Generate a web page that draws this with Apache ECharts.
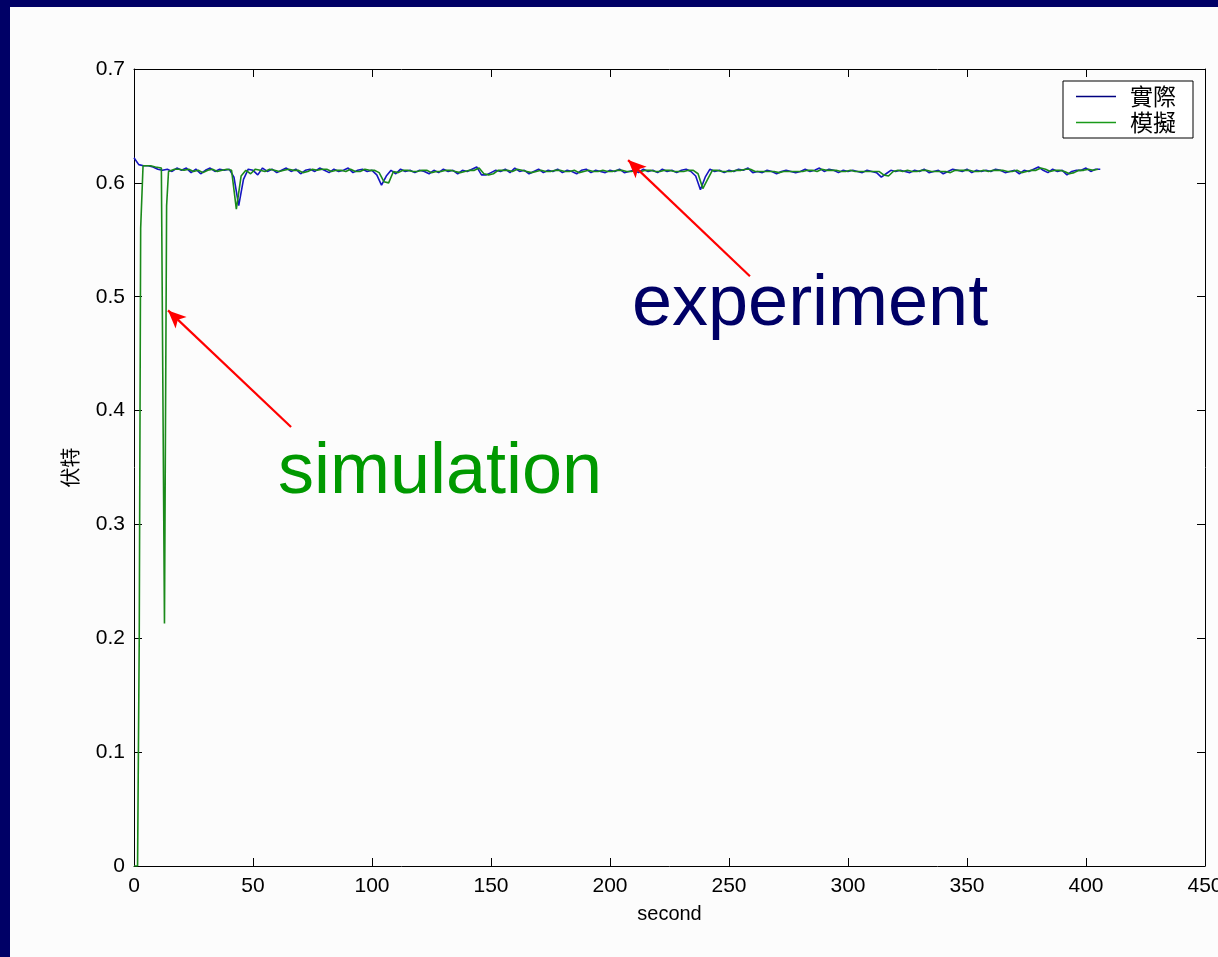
<!DOCTYPE html>
<html>
<head>
<meta charset="utf-8">
<script src="https://cdn.jsdelivr.net/npm/echarts@6/dist/echarts.min.js"></script>
<style>
html,body{margin:0;padding:0;width:1218px;height:957px;background:#000066;overflow:hidden;}
#chart{position:absolute;left:10px;top:7px;width:1208px;height:950px;background:#fcfcfc;}
</style>
</head>
<body>
<div id="chart"></div>
<script>
// x-axis tick labels (seconds) and y-axis ticks (volts)
const xTicks = [0, 50, 100, 150, 200, 250, 300, 350, 400, 450];
const yTicks = [0, 0.1, 0.2, 0.3, 0.4, 0.5, 0.6, 0.7];
const seriesNames = ['實際', '模擬'];

// 實際 (experiment): sampled every 2 s starting at 0 s
const blueStart = 0, blueStep = 2;
const blueValues = [
  0.622, 0.616, 0.615, 0.615, 0.614, 0.612, 0.611, 0.612, 0.610, 0.613,
  0.611, 0.613, 0.609, 0.612, 0.608, 0.611, 0.613, 0.610, 0.612, 0.611,
  0.612, 0.605, 0.580, 0.603, 0.612, 0.611, 0.607, 0.613, 0.610, 0.612,
  0.609, 0.611, 0.613, 0.610, 0.612, 0.608, 0.611, 0.612, 0.610, 0.613,
  0.611, 0.609, 0.612, 0.610, 0.611, 0.613, 0.609, 0.611, 0.612, 0.610,
  0.611, 0.607, 0.598, 0.606, 0.611, 0.608, 0.612, 0.610, 0.611, 0.609,
  0.611, 0.610, 0.608, 0.611, 0.609, 0.612, 0.610, 0.611, 0.608, 0.611,
  0.610, 0.612, 0.614, 0.607, 0.607, 0.609, 0.611, 0.610, 0.612, 0.609,
  0.613, 0.610, 0.611, 0.608, 0.610, 0.612, 0.609, 0.611, 0.610, 0.612,
  0.609, 0.611, 0.610, 0.608, 0.611, 0.612, 0.609, 0.611, 0.610, 0.609,
  0.611, 0.610, 0.612, 0.609, 0.610, 0.611, 0.609, 0.612, 0.610, 0.611,
  0.609, 0.612, 0.610, 0.611, 0.609, 0.611, 0.612, 0.610, 0.606, 0.594,
  0.605, 0.612, 0.610, 0.611, 0.609, 0.611, 0.610, 0.612, 0.611, 0.613,
  0.609, 0.610, 0.609, 0.611, 0.610, 0.608, 0.610, 0.611, 0.610, 0.609,
  0.610, 0.612, 0.610, 0.611, 0.613, 0.610, 0.612, 0.611, 0.609, 0.611,
  0.610, 0.611, 0.610, 0.609, 0.611, 0.610, 0.609, 0.605, 0.608, 0.611,
  0.610, 0.611, 0.610, 0.609, 0.611, 0.610, 0.612, 0.609, 0.610, 0.611,
  0.608, 0.610, 0.612, 0.611, 0.610, 0.612, 0.609, 0.611, 0.610, 0.611,
  0.610, 0.612, 0.611, 0.609, 0.610, 0.611, 0.608, 0.611, 0.610, 0.612,
  0.614, 0.611, 0.609, 0.612, 0.610, 0.611, 0.607, 0.610, 0.611, 0.611,
  0.613, 0.610, 0.612, 0.612
];

// 模擬 (simulation): start-up transient and first spike as [second, volt] pairs
const greenStartPoints = [
  [0, 0], [1.5, 0], [2.2, 0.2], [2.8, 0.56], [3.8, 0.615], [5, 0.615],
  [7, 0.615], [9, 0.614], [11.5, 0.613], [12.8, 0.213], [13.7, 0.58],
  [14.5, 0.61], [17, 0.612]
];
// then sampled every 2 s starting at 19 s
const greenStart = 19, greenStep = 2;
const greenValues = [
  0.612, 0.611, 0.612, 0.610, 0.611, 0.609, 0.611, 0.612, 0.610, 0.611, 0.612,
  0.611, 0.577, 0.606, 0.611, 0.608, 0.612, 0.611, 0.610, 0.612, 0.611,
  0.610, 0.611, 0.612, 0.611, 0.611, 0.609, 0.610, 0.612, 0.611, 0.612,
  0.612, 0.610, 0.611, 0.611, 0.610, 0.612, 0.610, 0.610, 0.612, 0.611,
  0.611, 0.609, 0.601, 0.600, 0.610, 0.609, 0.611, 0.611, 0.610, 0.610,
  0.611, 0.611, 0.609, 0.610, 0.610, 0.611, 0.611, 0.610, 0.609, 0.610,
  0.611, 0.611, 0.613, 0.608, 0.607, 0.608, 0.611, 0.611, 0.611, 0.610,
  0.612, 0.611, 0.610, 0.609, 0.610, 0.611, 0.610, 0.610, 0.611, 0.611,
  0.610, 0.610, 0.611, 0.609, 0.610, 0.611, 0.610, 0.610, 0.611, 0.610,
  0.610, 0.611, 0.611, 0.610, 0.610, 0.611, 0.610, 0.611, 0.611, 0.610,
  0.610, 0.611, 0.611, 0.610, 0.610, 0.610, 0.611, 0.611, 0.608, 0.595,
  0.603, 0.611, 0.611, 0.610, 0.610, 0.610, 0.611, 0.611, 0.612, 0.612,
  0.610, 0.610, 0.610, 0.610, 0.610, 0.609, 0.610, 0.610, 0.610, 0.610,
  0.610, 0.611, 0.611, 0.610, 0.612, 0.611, 0.611, 0.611, 0.610, 0.610,
  0.611, 0.610, 0.610, 0.610, 0.610, 0.610, 0.610, 0.607, 0.606, 0.610,
  0.611, 0.610, 0.611, 0.610, 0.610, 0.611, 0.611, 0.610, 0.610, 0.610,
  0.610, 0.609, 0.611, 0.611, 0.611, 0.611, 0.610, 0.610, 0.611, 0.610,
  0.611, 0.611, 0.611, 0.610, 0.610, 0.611, 0.609, 0.610, 0.611, 0.611,
  0.613, 0.612, 0.610, 0.611, 0.611, 0.610, 0.608, 0.609, 0.611, 0.611,
  0.612, 0.611, 0.612
];

// annotation arrows in data coordinates [from, to]
const arrowExperiment = [[258.8, 0.518], [207.6, 0.620]];
const arrowSimulation = [[66, 0.3856], [14.3, 0.488]];

const blueData = blueValues.map((v, i) => [blueStart + i * blueStep, v]);
const greenData = greenStartPoints.concat(greenValues.map((v, i) => [greenStart + i * greenStep, v]));

const chart = echarts.init(document.getElementById('chart'), null, {renderer: 'canvas', width: 1208, height: 950});
const font = 'Liberation Sans, Arial, sans-serif';
const axisLine = {show: true, onZero: false, lineStyle: {color: '#000', width: 1}};
const tick = {show: true, inside: true, length: 8, lineStyle: {color: '#000', width: 1}};

function arrowPair(a) {
  return [
    {coord: a[0], symbol: 'none', symbolSize: 0},
    {coord: a[1], symbol: 'arrow', symbolSize: [12, 18]}
  ];
}

chart.setOption({
  animation: false,
  backgroundColor: 'transparent',
  grid: {left: 124, top: 62, width: 1071, height: 797, containLabel: false, outerBoundsMode: 'none'},
  legend: {
    show: true,
    data: seriesNames,
    orient: 'vertical',
    left: 1053, top: 74,
    icon: 'rect',
    itemWidth: 40, itemHeight: 1.4,
    itemGap: 3,
    padding: [4, 17, 4, 13],
    backgroundColor: '#fff',
    borderColor: '#000', borderWidth: 1, borderRadius: 0,
    textStyle: {fontFamily: 'Noto Sans CJK TC', fontSize: 23, color: '#000', lineHeight: 23, padding: [0, 0, 0, 9]}
  },
  xAxis: [{
    type: 'value', min: 0, max: 450, interval: 50, position: 'bottom',
    name: 'second', nameLocation: 'middle', nameGap: 38,
    nameTextStyle: {fontFamily: font, fontSize: 20, color: '#000'},
    axisLine: axisLine, axisTick: tick, splitLine: {show: false},
    axisLabel: {fontFamily: font, fontSize: 21, color: '#000', margin: 10, showMaxLabel: true}
  }, {
    type: 'value', min: 0, max: 450, interval: 50, position: 'top',
    axisLine: axisLine, axisTick: tick, splitLine: {show: false},
    axisLabel: {show: false}
  }],
  yAxis: [{
    type: 'value', min: 0, max: 0.7, interval: 0.1, position: 'left',
    name: '伏特', nameLocation: 'middle', nameGap: 54, nameRotate: 90,
    nameTextStyle: {fontFamily: 'Noto Sans CJK TC', fontSize: 20, color: '#000'},
    axisLine: axisLine, axisTick: tick, splitLine: {show: false},
    axisLabel: {fontFamily: font, fontSize: 21, color: '#000', margin: 9,
      formatter: v => String(Math.round(v * 10) / 10)}
  }, {
    type: 'value', min: 0, max: 0.7, interval: 0.1, position: 'right',
    axisLine: axisLine, axisTick: tick, splitLine: {show: false},
    axisLabel: {show: false}
  }],
  series: [{
    name: seriesNames[0], type: 'line', data: blueData,
    showSymbol: false, symbol: 'none',
    lineStyle: {color: '#1515c0', width: 1.6}, itemStyle: {color: '#000080'},
    markLine: {
      silent: true, symbol: ['none', 'arrow'], symbolSize: [12, 18],
      label: {show: false},
      emphasis: {disabled: true},
      lineStyle: {color: '#ff0000', width: 2.2, type: 'solid'},
      itemStyle: {color: '#ff0000'},
      data: [arrowPair(arrowExperiment), arrowPair(arrowSimulation)]
    }
  }, {
    name: seriesNames[1], type: 'line', data: greenData,
    showSymbol: false, symbol: 'none',
    lineStyle: {color: '#1a8a1a', width: 1.6}, itemStyle: {color: '#1a9a1a'}
  }],
  graphic: [{
    type: 'text', left: 622, top: 262,
    style: {text: 'experiment', fontFamily: font, fontSize: 72, fill: '#000066'}
  }, {
    type: 'text', left: 268, top: 430,
    style: {text: 'simulation', fontFamily: font, fontSize: 72, fill: '#009900'}
  }]
});
</script>
</body>
</html>
